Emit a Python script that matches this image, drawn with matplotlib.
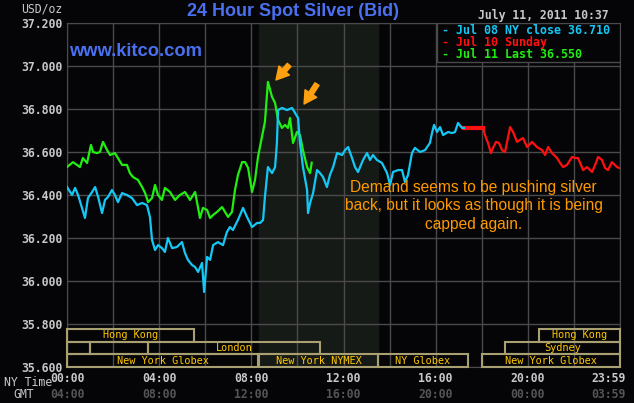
import numpy as np
import matplotlib.pyplot as plt
from matplotlib.transforms import blended_transform_factory
from matplotlib.patches import Rectangle

'''
DATA (NY time in hours, spot bid in USD/oz)
'''
# jul 08 - friday, up to the NY close
jul08_hours = [0, 0.22, 0.35, 0.48, 0.65, 0.78, 0.91, 1.09, 1.22, 1.35, 1.52, 1.65, 1.78, 1.95,
               2.08, 2.21, 2.39, 2.60, 2.82, 3.04, 3.26, 3.47, 3.60, 3.69, 3.82, 3.95, 4.12, 4.25,
               4.38, 4.56, 4.77, 4.99, 5.12, 5.25, 5.43, 5.56, 5.69, 5.86, 5.95, 6.08, 6.21, 6.34,
               6.55, 6.77, 6.94, 7.07, 7.20, 7.42, 7.64, 7.81, 8.03, 8.25, 8.38, 8.51, 8.59, 8.72,
               8.90, 9.03, 9.11, 9.16, 9.33, 9.55, 9.77, 9.90, 10.03, 10.11, 10.24, 10.42, 10.46,
               10.55, 10.68, 10.85, 10.98, 11.11, 11.28, 11.41, 11.55, 11.72, 11.94, 12.07, 12.20,
               12.37, 12.50, 12.63, 12.85, 13.02, 13.15, 13.28, 13.45, 13.67, 13.89, 14.02, 14.15,
               14.37, 14.54, 14.67, 14.80, 14.97, 15.10, 15.32, 15.54, 15.75, 15.84, 15.93, 16.06,
               16.19, 16.32, 16.54, 16.71, 16.84, 16.97, 17.14, 17.23]
jul08_price = [36.437, 36.400, 36.433, 36.400, 36.340, 36.293, 36.386, 36.414, 36.437, 36.391,
               36.316, 36.377, 36.391, 36.423, 36.400, 36.367, 36.409, 36.400, 36.386, 36.353,
               36.363, 36.353, 36.298, 36.191, 36.144, 36.167, 36.153, 36.135, 36.200, 36.153,
               36.158, 36.181, 36.130, 36.098, 36.074, 36.065, 36.042, 36.084, 35.949, 36.112,
               36.098, 36.167, 36.181, 36.167, 36.228, 36.251, 36.237, 36.284, 36.340, 36.298,
               36.251, 36.270, 36.270, 36.284, 36.391, 36.530, 36.502, 36.530, 36.642, 36.795,
               36.805, 36.795, 36.805, 36.781, 36.758, 36.642, 36.530, 36.423, 36.316, 36.363,
               36.409, 36.516, 36.502, 36.484, 36.437, 36.493, 36.530, 36.595, 36.586, 36.609,
               36.623, 36.572, 36.530, 36.507, 36.563, 36.595, 36.563, 36.586, 36.563, 36.549,
               36.502, 36.447, 36.507, 36.516, 36.516, 36.460, 36.493, 36.595, 36.619, 36.600,
               36.609, 36.642, 36.688, 36.726, 36.693, 36.716, 36.679, 36.693, 36.688, 36.693,
               36.735, 36.712, 36.712]

# jul 10 - sunday evening session (starts from the friday close)
jul10_hours = [17.23, 18.06, 18.14, 18.27, 18.40, 18.49, 18.62, 18.75, 18.88, 19.01, 19.10, 19.23,
               19.36, 19.53, 19.66, 19.79, 19.97, 20.18, 20.40, 20.62, 20.75, 20.88, 21.05, 21.27,
               21.40, 21.53, 21.70, 21.92, 22.05, 22.18, 22.40, 22.57, 22.79, 22.92, 23.05, 23.22,
               23.35, 23.48, 23.65, 23.87, 23.96]
jul10_price = [36.712, 36.712, 36.679, 36.642, 36.595, 36.619, 36.647, 36.642, 36.609, 36.600,
               36.647, 36.716, 36.693, 36.647, 36.656, 36.665, 36.623, 36.647, 36.623, 36.609,
               36.586, 36.623, 36.595, 36.572, 36.549, 36.530, 36.540, 36.577, 36.572, 36.572,
               36.516, 36.530, 36.507, 36.540, 36.577, 36.563, 36.526, 36.516, 36.553, 36.530,
               36.526]

# jul 11 - today, up to 10:37
jul11_hours = [0, 0.26, 0.56, 0.69, 0.87, 1.04, 1.13, 1.30, 1.43, 1.56, 1.74, 1.87, 2.08, 2.21,
               2.39, 2.60, 2.73, 2.86, 3.08, 3.26, 3.39, 3.52, 3.69, 3.82, 3.95, 4.12, 4.25, 4.47,
               4.69, 4.90, 5.12, 5.34, 5.56, 5.69, 5.77, 5.90, 6.08, 6.21, 6.34, 6.51, 6.73, 6.86,
               6.99, 7.16, 7.29, 7.42, 7.60, 7.73, 7.86, 8.03, 8.16, 8.29, 8.46, 8.59, 8.72, 8.90,
               9.03, 9.16, 9.33, 9.46, 9.59, 9.68, 9.81, 9.98, 10.11, 10.24, 10.42, 10.55, 10.62]
jul11_price = [36.530, 36.553, 36.530, 36.572, 36.549, 36.633, 36.600, 36.595, 36.600, 36.647,
               36.609, 36.586, 36.595, 36.572, 36.540, 36.540, 36.502, 36.484, 36.470, 36.437,
               36.409, 36.367, 36.386, 36.447, 36.400, 36.377, 36.433, 36.414, 36.377, 36.400,
               36.414, 36.377, 36.414, 36.340, 36.293, 36.340, 36.330, 36.293, 36.307, 36.321,
               36.344, 36.321, 36.298, 36.321, 36.423, 36.493, 36.553, 36.553, 36.526, 36.414,
               36.470, 36.577, 36.670, 36.740, 36.926, 36.856, 36.828, 36.749, 36.712, 36.726,
               36.712, 36.758, 36.642, 36.693, 36.679, 36.609, 36.530, 36.502, 36.550]

price_ticks = [35.6, 35.8, 36.0, 36.2, 36.4, 36.6, 36.8, 37.0, 37.2]
ny_label_hours = [0, 4, 8, 12, 16, 20, 23.98]
ny_labels = ['00:00', '04:00', '08:00', '12:00', '16:00', '20:00', '23:59']
gmt_labels = ['04:00', '08:00', '12:00', '16:00', '20:00', '00:00', '03:59']

legend_labels = ['Jul 08 NY close 36.710', 'Jul 10 Sunday', 'Jul 11 Last 36.550']

# trading sessions, row 0 is the top one
session_names = ['Hong Kong', '', '', 'London', 'Sydney', 'Hong Kong',
                 'New York Globex', 'New York NYMEX', 'NY Globex', 'New York Globex']
session_start = [0, 0, 1.0, 3.5, 19.0, 20.5, 0, 8.33, 13.5, 18.0]
session_end = [5.5, 1.0, 3.5, 11.0, 24, 24, 8.29, 13.5, 17.4, 24]
session_row = [0, 1, 1, 1, 1, 0, 2, 2, 2, 2]
nymex_open, nymex_close = 8.33, 13.5

'''
STYLE
'''
bg = '#050508'
gridc = '#4a4a4a'
shade = '#161a16'
cyan = '#14c8f5'
red = '#ff1010'
green = '#22ee11'
light = '#c8c8c8'
mono = 'DejaVu Sans Mono'

W, H = 634, 403
fig = plt.figure(figsize=(W / 100, H / 100), dpi=100, facecolor=bg)
ax = fig.add_axes([67 / W, 36 / H, 553 / W, 344 / H], facecolor=bg)

ax.set_xlim(0, 24)
ax.set_ylim(35.6, 37.2)
ax.axvspan(nymex_open, nymex_close, color=shade, zorder=0)

ax.set_xticks(np.arange(0, 25, 2))
ax.set_yticks(price_ticks)
ax.set_yticklabels([f'{p:.3f}' for p in price_ticks], family=mono, fontsize=8.3,
                   color=light, fontweight='bold')
ax.tick_params(length=0, labelbottom=False, pad=3.5)
ax.grid(True, color=gridc, lw=1, zorder=1)
ax.set_axisbelow(True)
for s in ax.spines.values():
    s.set_color(gridc)

# price lines
ax.plot(jul11_hours, jul11_price, color=green, lw=1.6, zorder=4)
ax.plot(jul08_hours, jul08_price, color=cyan, lw=1.6, zorder=5)
ax.plot(jul10_hours[:2], jul10_price[:2], color=red, lw=3, zorder=4)
ax.plot(jul10_hours[1:], jul10_price[1:], color=red, lw=1.6, zorder=4)

# session boxes along the bottom
trans = blended_transform_factory(ax.transData, ax.transAxes)
row_h = 12.6 / 344
for name, start, end, row in zip(session_names, session_start, session_end, session_row):
    y0 = (2 - row) * row_h
    ax.add_patch(Rectangle((start, y0), end - start, row_h, transform=trans, fill=False,
                           edgecolor='#a8a070', lw=1.5, zorder=3, clip_on=False))
    if name:
        ax.text((start + end) / 2, y0 + row_h / 2, name, transform=trans, ha='center',
                va='center', family=mono, fontsize=7.4, color='#ffc800', zorder=6)

# legend box
ax.add_patch(Rectangle((0.669, 0.8866), 0.331, 0.1134, transform=ax.transAxes,
                       facecolor=bg, edgecolor=gridc, lw=1, zorder=6))
for i, (lab, c) in enumerate(zip(legend_labels, [cyan, red, green])):
    fig.text(442 / W, 1 - (31 + 11.7 * i) / H, '- ' + lab, family=mono, fontsize=8.4,
             color=c, va='center', fontweight='bold', zorder=7)

# time axis labels
for h, ny, gmt in zip(ny_label_hours, ny_labels, gmt_labels):
    ha = 'right' if h > 23 else 'center'
    dx = 6 if h > 23 else 0
    ax.annotate(ny, (h, 0), xycoords=trans, xytext=(dx, -12), textcoords='offset pixels',
                ha=ha, va='center', family=mono, fontsize=8.3, color=light,
                fontweight='bold', annotation_clip=False)
    ax.annotate(gmt, (h, 0), xycoords=trans, xytext=(dx, -28), textcoords='offset pixels',
                ha=ha, va='center', family=mono, fontsize=8.3, color='#555555',
                fontweight='bold', annotation_clip=False)
fig.text(4 / W, 1 - 382 / H, 'NY Time', family=mono, fontsize=8.3, color=light, va='center')
fig.text(13 / W, 1 - 394 / H, 'GMT', family=mono, fontsize=8.3, color=light, va='center')
fig.text(62 / W, 1 - 9 / H, 'USD/oz', family=mono, fontsize=8.3, color=light,
         va='center', ha='right')

# titles
fig.text(293 / W, 1 - 12 / H, '24 Hour Spot Silver (Bid)', family='Liberation Sans',
         fontsize=13, fontweight='bold', color='#4a70f0', ha='center', va='center')
fig.text(609 / W, 1 - 15 / H, 'July 11, 2011 10:37', family=mono, fontsize=8.3,
         color=light, ha='right', va='center', fontweight='bold')
fig.text(69 / W, 1 - 51 / H, 'www.kitco.com', family='Liberation Sans', fontsize=13.2,
         fontweight='bold', color='#4a70f0', va='center')

# comment + arrows
ax.text(17.65, 36.35, 'Demand seems to be pushing silver\nback, but it looks as though it is being\ncapped again.',
        family='Liberation Sans', fontsize=11.2, color='#ff9900', ha='center', va='center',
        linespacing=1.3, zorder=6)
for tail, head in [((9.64, 37.005), (9.07, 36.935)), ((10.85, 36.916), (10.29, 36.823))]:
    ax.annotate('', xy=head, xytext=tail,
                arrowprops=dict(arrowstyle='simple,head_length=0.9,head_width=1.0,tail_width=0.35',
                                color='#ffa010', shrinkA=0, shrinkB=0), zorder=6)

fig.savefig('out.png', dpi=100, facecolor=bg)
